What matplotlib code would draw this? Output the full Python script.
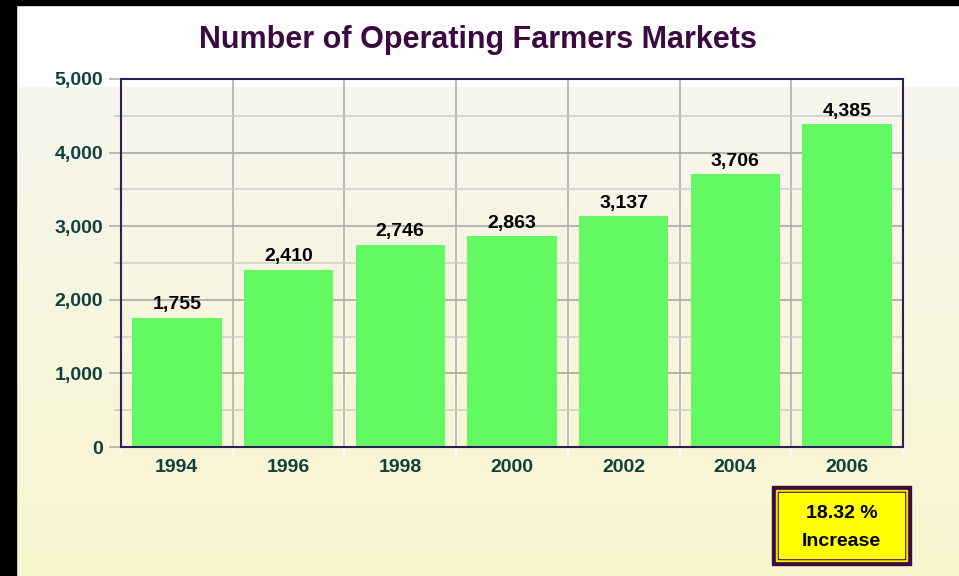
import numpy as np
import matplotlib.pyplot as plt
from matplotlib.patches import Rectangle
from matplotlib.ticker import MultipleLocator, FuncFormatter

# ==========================================================
# Data
# ==========================================================

YEARS = ["1994", "1996", "1998", "2000", "2002", "2004", "2006"]

MARKETS = [1755, 2410, 2746, 2863, 3137, 3706, 4385]

BOX_TEXT = "18.32 %\nIncrease"

TITLE = "Number of Operating Farmers Markets"

# ==========================================================
# Style
# ==========================================================

BAR_COLOR = "#62f962"
TICK_COLOR = "#10403c"
TITLE_COLOR = "#3a0a40"
FRAME_COLOR = "#2c1f55"

plt.rcParams["font.family"] = ["Liberation Sans", "DejaVu Sans"]

fig = plt.figure(figsize=(9.59, 5.76), dpi=100)

# background: black strips, white top band, pale gradient below
bg = fig.add_axes([0, 0, 1, 1], zorder=-10)
rows = 576
grad = np.ones((rows, 1, 3))
top = np.array([246, 246, 238]) / 255
bot = np.array([248, 245, 205]) / 255
for r in range(rows):
    if r < 87:
        grad[r, 0] = [1, 1, 1]
    else:
        t = (r - 87) / (rows - 87)
        grad[r, 0] = top * (1 - t) + bot * t
bg.imshow(grad, aspect="auto", extent=[0, 959, 576, 0])
bg.add_patch(Rectangle((0, 0), 16, 576, color="black"))
bg.add_patch(Rectangle((0, 0), 959, 5, color="black"))
bg.set_xlim(0, 959)
bg.set_ylim(576, 0)
bg.axis("off")

# ==========================================================
# Bars
# ==========================================================

ax = fig.add_axes([121 / 959, 1 - 447 / 576, 782 / 959, 368 / 576])
ax.patch.set_alpha(0)

x = np.arange(len(YEARS))
ax.bar(x, MARKETS, width=0.8, color=BAR_COLOR, zorder=3)

for xi, v in zip(x, MARKETS):
    ax.text(xi, v + 60, f"{v:,}", ha="center", va="bottom",
            fontsize=14, fontweight="bold", color="black", zorder=4)

ax.set_xlim(-0.5, len(YEARS) - 0.5)
ax.set_ylim(0, 5000)

ax.yaxis.set_major_locator(MultipleLocator(1000))
ax.yaxis.set_minor_locator(MultipleLocator(500))
ax.yaxis.set_major_formatter(FuncFormatter(lambda v, p: f"{int(v):,}"))

ax.set_xticks(x)
ax.set_xticklabels(YEARS)
ax.set_xticks(np.arange(len(YEARS) + 1) - 0.5, minor=True)

ax.grid(axis="y", which="major", color="#a8a8a8", linewidth=1.2, zorder=1)
ax.grid(axis="y", which="minor", color="#d0d0d0", linewidth=1.2, zorder=1)
ax.grid(axis="x", which="minor", color="#b0b0b0", linewidth=1.2, zorder=1)

ax.tick_params(axis="y", which="major", length=9, width=1.2, color="#b0b0b0",
               labelsize=14, labelcolor=TICK_COLOR, pad=4)
ax.tick_params(axis="y", which="minor", length=5, width=1.2, color="#c8c8c8")
ax.tick_params(axis="x", which="major", length=0, labelsize=14,
               labelcolor=TICK_COLOR, pad=9)
ax.tick_params(axis="x", which="minor", length=6, width=1.2, color="white")

for lbl in ax.get_xticklabels() + ax.get_yticklabels():
    lbl.set_fontweight("bold")

for side in ["left", "top", "right", "bottom"]:
    ax.spines[side].set_color(FRAME_COLOR)
    ax.spines[side].set_linewidth(1.5)
    ax.spines[side].set_zorder(5)

fig.text(478 / 959, 1 - 40 / 576, TITLE, ha="center", va="center",
         fontsize=22, fontweight="bold", color=TITLE_COLOR)

# ==========================================================
# Increase box
# ==========================================================

bx0, by0, bx1, by1 = 772, 486, 911, 565
layers = [
    (0, "#3a0a40"),
    (4, "#e8e800"),
    (6, "#3a0a40"),
    (7, "#ffff00"),
]
for inset, col in layers:
    bg.add_patch(Rectangle((bx0 + inset, by0 + inset),
                           (bx1 - bx0) - 2 * inset, (by1 - by0) - 2 * inset,
                           color=col, zorder=2))
bg.text((bx0 + bx1) / 2, (by0 + by1) / 2 + 2, BOX_TEXT, ha="center",
        va="center", fontsize=14, fontweight="bold", color="black",
        linespacing=1.85, zorder=3)

fig.savefig("out.png", dpi=100)
